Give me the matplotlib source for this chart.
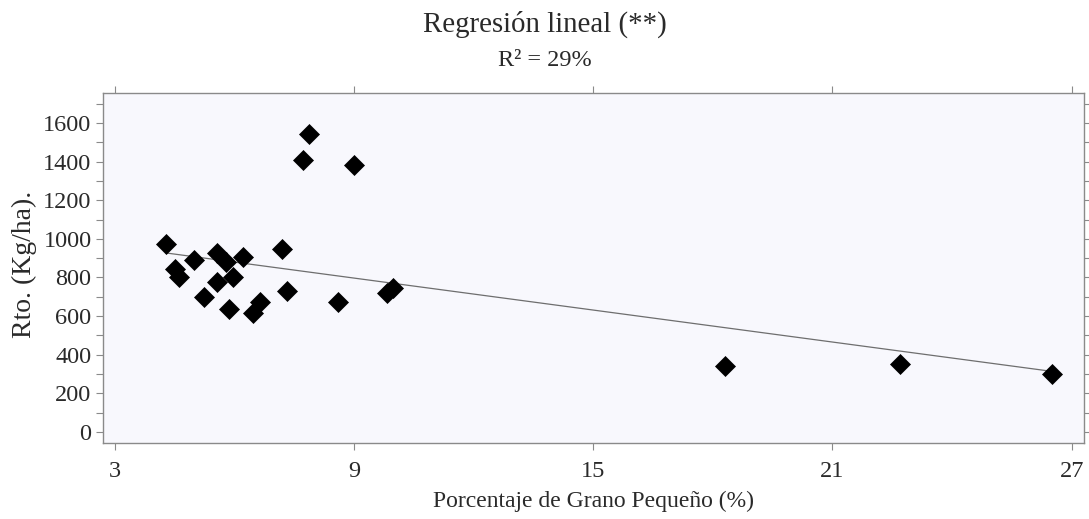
import matplotlib
matplotlib.use("Agg")
import matplotlib.pyplot as plt
from matplotlib.ticker import MultipleLocator

# Data
pct_small_grain = [4.27, 4.97, 4.51, 4.61, 5.55, 5.78, 6.20, 5.57, 5.95, 5.22,
                   5.86, 6.47, 6.64, 7.19, 7.31, 8.59, 9.82, 9.97, 7.86, 7.71,
                   9.00, 18.30, 22.70, 26.51]
yield_kg_ha = [972, 890, 842, 800, 925, 880, 908, 777, 800, 699,
               636, 615, 675, 949, 729, 675, 718, 743, 1544, 1406,
               1380, 340, 351, 300]
fit_intercept = 1045.0
fit_slope = -27.6

x_ticks = [3, 9, 15, 21, 27]
y_ticks = [0, 200, 400, 600, 800, 1000, 1200, 1400, 1600]

title = "Regresión lineal (**)"
subtitle = "R² = 29%"
xlabel = "Porcentaje de Grano Pequeño (%)"
ylabel = "Rto. (Kg/ha)."

plt.rcParams['font.family'] = ['Liberation Serif', 'DejaVu Serif']

fig = plt.figure(figsize=(10.89, 5.19), dpi=100)
ax = fig.add_axes([0.0943, 0.1459, 0.9954 - 0.0943, 0.8214 - 0.1459])
ax.set_facecolor('#f8f8fd')

xmin, xmax = min(pct_small_grain), max(pct_small_grain)
ax.plot([xmin, xmax], [fit_intercept + fit_slope * xmin, fit_intercept + fit_slope * xmax],
        color='#6e6e6e', lw=0.9, zorder=2)
ax.plot(pct_small_grain, yield_kg_ha, linestyle='none', marker='D', ms=10,
        mfc='black', mec='black', mew=0.5, zorder=3)

ax.set_xlim(2.69, 27.31)
ax.set_ylim(-59, 1757)
ax.set_xticks(x_ticks)
ax.set_yticks(y_ticks)
ax.yaxis.set_minor_locator(MultipleLocator(100))

for s in ax.spines.values():
    s.set_color('#8a8a8a')
    s.set_linewidth(1.0)

ax.tick_params(axis='both', which='both', direction='out', color='#8a8a8a',
               width=0.8, labelsize=17.5, labelcolor='#2a2a2a')
ax.tick_params(axis='both', which='major', length=5)
ax.tick_params(axis='y', which='minor', length=5)
ax.tick_params(top=True, right=True, which='major')
ax.tick_params(axis='y', which='minor', right=True, left=True)
ax.tick_params(axis='x', which='major', pad=8)
ax.tick_params(axis='y', which='major', pad=3)

ax.set_xlabel(xlabel, fontsize=17, color='#2a2a2a')
ax.set_ylabel(ylabel, fontsize=20, color='#2a2a2a')
ax.xaxis.set_label_coords(0.5, -0.135)
ax.yaxis.set_label_coords(-0.067, 0.51)

fig.text(0.5, 0.953, title, ha='center', va='center', fontsize=20.8, color='#2a2a2a')
fig.text(0.5, 0.884, subtitle, ha='center', va='center', fontsize=17.5, color='#2a2a2a')

fig.savefig('out.png', dpi=100)
